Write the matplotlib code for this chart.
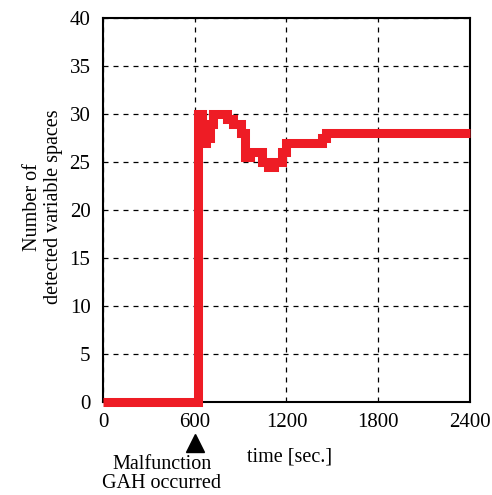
import numpy as np
import matplotlib.pyplot as plt
from matplotlib import transforms

plt.rcParams['font.family'] = ['Liberation Serif', 'DejaVu Serif']

# --- datos (función escalonada) ---
tiempo = [0, 603, 620, 645, 675, 700, 720, 810, 850, 900, 930, 960, 1000,
          1040, 1080, 1120, 1170, 1195, 1430, 1460, 2400]
espacios = [0, 0, 30, 27, 27.5, 29, 30, 29.5, 29, 28, 25.5, 26, 26,
            25, 24.5, 25, 26, 27, 27.5, 28, 28]
xticks = [0, 600, 1200, 1800, 2400]
yticks = [0, 5, 10, 15, 20, 25, 30, 35, 40]
t_fallo = 600

fig = plt.figure(figsize=(4.92, 4.95), dpi=100)
ax = fig.add_axes([0.2093, 0.1879, 0.7460, 0.7758])

ax.step(tiempo, espacios, where='post', color='#ee1c25', linewidth=6.5,
        solid_joinstyle='miter', solid_capstyle='butt', clip_on=False, zorder=3)

ax.set_xlim(0, 2400)
ax.set_ylim(0, 40)
ax.set_xticks(xticks)
ax.set_yticks(yticks)
ax.tick_params(labelsize=15, length=0)
ax.tick_params(axis='y', pad=9)
ax.tick_params(axis='x', pad=8)
ax.grid(True, color='black', linestyle=(0, (4, 4)), linewidth=0.9)
for s in ax.spines.values():
    s.set_linewidth(1.5)

ax.set_ylabel('Number of\ndetected variable spaces', fontsize=14.5, linespacing=1.1)
ax.yaxis.set_label_coords(-0.11, 0.508)
fig.text(290 / 492, 1 - 457 / 495, 'time [sec.]', fontsize=14.5, ha='center', va='center')

# marcador del fallo
trans = transforms.blended_transform_factory(ax.transData, ax.transAxes)
ax.plot([t_fallo], [-0.107], marker='^', color='black', markersize=13,
        transform=trans, clip_on=False)
fig.text(162 / 492, 1 - 474 / 495, 'Malfunction\nGAH occurred', fontsize=14.5,
         ha='center', va='center', linespacing=1.0)

fig.savefig('out.png', dpi=100)
